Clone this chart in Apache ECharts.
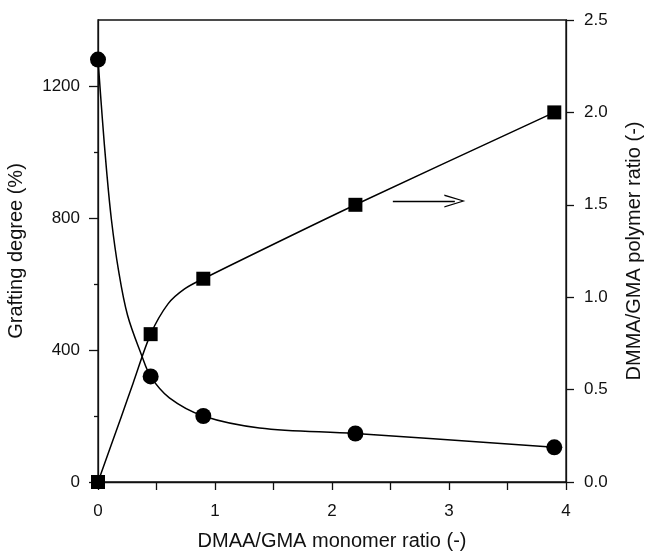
<!DOCTYPE html>
<html>
<head>
<meta charset="utf-8">
<script src="https://cdn.jsdelivr.net/npm/echarts@6/dist/echarts.min.js"></script>
<style>
  html, body { margin: 0; padding: 0; background: #fff; }
</style>
</head>
<body>
<div id="main" style="width: 645px; height: 554px;"></div>
<script>
// measured points (markers)
const monomerRatio = [0, 0.45, 0.9, 2.2, 3.9];
const graftingDegree = [1280, 320, 200, 147, 105];   // left axis, circles
const polymerRatio = [0, 0.8, 1.1, 1.5, 2.0];        // right axis, squares

// drawn guide curves
const graftCurveX = [0, 0.038, 0.073, 0.115, 0.175, 0.252, 0.372, 0.45, 0.61, 0.9, 1.38, 2.2, 3.9];
const graftCurveY = [1280, 1097, 945, 794, 642, 506, 385, 320, 255, 200, 164, 147, 105];
const ratioCurveX = [0, 0.2, 0.3, 0.45, 0.6, 0.74, 0.9, 2.2, 3.9];
const ratioCurveY = [0, 0.355, 0.535, 0.8, 0.965, 1.045, 1.1, 1.5, 2.0];

// tick positions
const leftMajorTicks = [0, 400, 800, 1200];
const leftMinorTicks = [200, 600, 1000];
const rightTicks = [0, 0.5, 1.0, 1.5, 2.0, 2.5];
// arrow pointing to right axis (data coords on right axis)
const arrowAt = [[2.52, 1.52], [3.05, 1.52]];

const font = 'Liberation Sans, Arial, Helvetica, sans-serif';
const ink = '#111';

function pairs(xs, ys) {
  return xs.map((x, i) => [x, ys[i]]);
}

const myChart = echarts.init(document.getElementById('main'));
const option = {
  animation: false,
  grid: {
    left: 98, right: 79, top: 20, bottom: 72,
    outerBoundsMode: 'none',
    containLabel: false,
    show: true, borderColor: ink, borderWidth: 1.3
  },
  xAxis: {
    type: 'value',
    min: 0, max: 4, interval: 0.5,
    name: 'DMAA/GMA monomer ratio (-)',
    nameLocation: 'middle',
    nameGap: 49,
    nameTextStyle: { fontFamily: font, fontSize: 20, color: ink },
    axisLine: { lineStyle: { color: ink, width: 1.3 } },
    axisTick: { length: 8, lineStyle: { color: ink, width: 1.3 } },
    axisLabel: {
      margin: 21, fontFamily: font, fontSize: 17, color: ink,
      formatter: v => (v % 1 === 0 ? String(v) : '')
    },
    splitLine: { show: false }
  },
  yAxis: [
    {
      type: 'value',
      position: 'left',
      min: 0, max: 1400, interval: 200,
      name: 'Grafting degree (%)',
      nameLocation: 'middle',
      nameGap: 72,
      nameTextStyle: { fontFamily: font, fontSize: 20, color: ink },
      axisLine: { show: true, lineStyle: { color: ink, width: 1.3 } },
      axisTick: { customValues: leftMajorTicks, length: 9, lineStyle: { color: ink, width: 1.3 } },
      axisLabel: {
        customValues: leftMajorTicks, margin: 18, fontFamily: font, fontSize: 17, color: ink,
        formatter: v => String(v)
      },
      splitLine: { show: false }
    },
    {
      type: 'value',
      position: 'right',
      min: 0, max: 2.5, interval: 0.5,
      name: 'DMMA/GMA polymer ratio (-)',
      nameLocation: 'middle',
      nameGap: 58,
      nameTextStyle: { fontFamily: font, fontSize: 20, color: ink },
      axisLine: { show: true, lineStyle: { color: ink, width: 1.3 } },
      axisTick: { customValues: rightTicks, length: 8, lineStyle: { color: ink, width: 1.3 } },
      axisLabel: {
        customValues: rightTicks, margin: 18, fontFamily: font, fontSize: 17, color: ink,
        formatter: v => v.toFixed(1)
      },
      splitLine: { show: false }
    },
    {
      // short minor ticks on the left axis
      type: 'value',
      position: 'left',
      min: 0, max: 1400, interval: 200,
      axisLine: { show: false },
      axisTick: { show: true, customValues: leftMinorTicks, length: 4, lineStyle: { color: ink, width: 1.3 } },
      axisLabel: { show: false },
      splitLine: { show: false }
    }
  ],
  series: [
    {
      name: 'graft curve',
      type: 'line',
      yAxisIndex: 0,
      data: pairs(graftCurveX, graftCurveY),
      smooth: 0.35,
      showSymbol: false,
      lineStyle: { color: '#000', width: 1.5 },
      z: 2
    },
    {
      name: 'ratio curve',
      type: 'line',
      yAxisIndex: 1,
      data: pairs(ratioCurveX, ratioCurveY),
      smooth: 0.3,
      showSymbol: false,
      lineStyle: { color: '#000', width: 1.5 },
      z: 2,
      markLine: {
        silent: true,
        animation: false,
        symbol: ['none', 'path://M0,20 L10,0 L20,20 L18,20 L10,3.5 L2,20 Z'],
        symbolSize: [13, 21],
        label: { show: false },
        lineStyle: { color: '#000', width: 1.3, type: 'solid' },
        data: [[{ coord: arrowAt[0] }, { coord: arrowAt[1] }]]
      }
    },
    {
      name: 'Grafting degree',
      type: 'scatter',
      yAxisIndex: 0,
      data: pairs(monomerRatio, graftingDegree),
      symbol: 'circle',
      symbolSize: 16,
      itemStyle: { color: '#000', opacity: 1 },
      z: 3
    },
    {
      name: 'Polymer ratio',
      type: 'scatter',
      yAxisIndex: 1,
      data: pairs(monomerRatio, polymerRatio),
      symbol: 'rect',
      symbolSize: 14,
      itemStyle: { color: '#000', opacity: 1 },
      z: 3
    }
  ]
};
myChart.setOption(option);
</script>
</body>
</html>
